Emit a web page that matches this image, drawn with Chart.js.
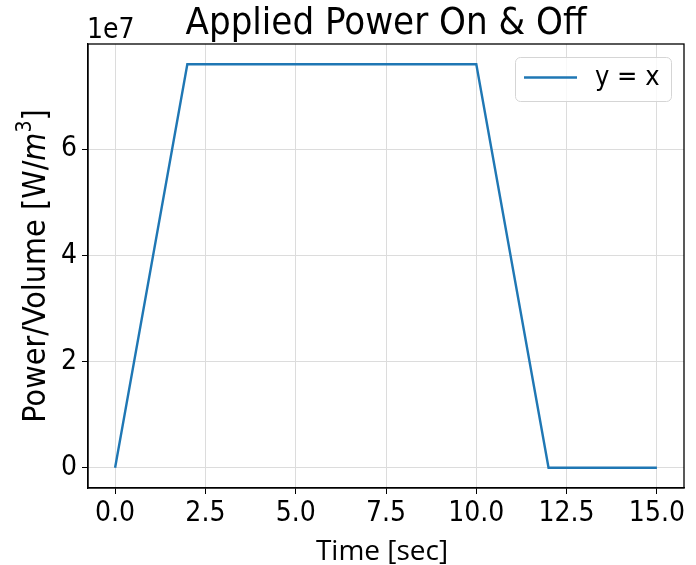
<!DOCTYPE html>
<html>
<head>
<meta charset="utf-8">
<script src="https://cdn.jsdelivr.net/npm/chart.js@4.4.1/dist/chart.umd.min.js"></script>
<style>
  html, body { margin: 0; padding: 0; background: #fff; }
  #wrap { width: 696px; height: 565px; }
</style>
</head>
<body>
<div id="wrap"><canvas id="myChart" width="696" height="565"></canvas></div>
<script>
// data
const timeSec = [0, 2, 10, 12, 15];
const powerPerVolume = [0, 7.6e7, 7.6e7, 0, 0];
const seriesLabel = 'y = x';
const xTicks = [0, 2.5, 5, 7.5, 10, 12.5, 15];
const yTicks = [0, 2e7, 4e7, 6e7];

const fam = '"DejaVu Sans Condensed", "DejaVu Sans", sans-serif';
const tickFont = '28px ' + fam;
const blue = '#1f77b4';

// draws frame, title, axis labels, offset text and legend like matplotlib
const decorations = {
    id: 'decorations',
    afterDraw(chart) {
        const ctx = chart.ctx;
        const a = chart.chartArea;
        ctx.save();

        // full box around the axes
        ctx.strokeStyle = '#000';
        ctx.lineWidth = 1.3;
        ctx.strokeRect(a.left, a.top, a.right - a.left, a.bottom - a.top);

        ctx.fillStyle = '#000';
        // title
        ctx.font = '38px ' + fam;
        ctx.textAlign = 'center';
        ctx.textBaseline = 'alphabetic';
        ctx.fillText('Applied Power On & Off', (a.left + a.right) / 2, 34);

        // 1e7 offset
        ctx.font = tickFont;
        ctx.textAlign = 'left';
        ctx.fillText('1e7', 87, 38);

        // x label
        ctx.font = '28px "Open Sans", sans-serif';
        ctx.textAlign = 'center';
        ctx.fillText('Time [sec]', (a.left + a.right) / 2 - 4, 560);

        // y label with italic m and superscript 3
        ctx.translate(45, (a.top + a.bottom) / 2);
        ctx.rotate(-Math.PI / 2);
        const base = '32px ' + fam;
        const ital = 'italic 32px ' + fam;
        const sup = '21px ' + fam;
        const parts = [
            [base, 'Power/Volume [W/', 0],
            [ital, 'm', 0],
            [sup, '3', -14],
            [base, ']', 0]
        ];
        let total = 0;
        parts.forEach(p => { ctx.font = p[0]; total += ctx.measureText(p[1]).width; });
        let x = -total / 2;
        ctx.textAlign = 'left';
        parts.forEach(p => {
            ctx.font = p[0];
            ctx.fillText(p[1], x, p[2]);
            x += ctx.measureText(p[1]).width;
        });
        ctx.restore();

        // legend box
        ctx.save();
        const lx = 515, ly = 57, lw = 156, lh = 44;
        ctx.fillStyle = 'rgba(255,255,255,0.8)';
        ctx.strokeStyle = '#d5d5d5';
        ctx.lineWidth = 1;
        ctx.beginPath();
        ctx.roundRect(lx + 0.5, ly + 0.5, lw, lh, 5);
        ctx.fill();
        ctx.stroke();
        ctx.strokeStyle = blue;
        ctx.lineWidth = 2.4;
        ctx.beginPath();
        ctx.moveTo(lx + 9, ly + 20.5);
        ctx.lineTo(lx + 62, ly + 20.5);
        ctx.stroke();
        ctx.fillStyle = '#000';
        ctx.font = '27px ' + fam;
        ctx.textBaseline = 'middle';
        ctx.fillText(seriesLabel, lx + 80, ly + 21);
        ctx.restore();
    }
};

const canvas = document.getElementById('myChart');
new Chart(canvas, {
    type: 'line',
    data: {
        datasets: [{
            label: seriesLabel,
            data: timeSec.map((t, i) => ({ x: t, y: powerPerVolume[i] })),
            borderColor: blue,
            borderWidth: 2.4,
            pointRadius: 0,
            tension: 0,
            fill: false
        }]
    },
    options: {
        responsive: false,
        animation: false,
        layout: { padding: { top: 44, right: 12, left: 0, bottom: 0 } },
        plugins: {
            legend: { display: false },
            tooltip: { enabled: false }
        },
        scales: {
            x: {
                type: 'linear',
                min: -0.75,
                max: 15.75,
                afterFit: s => { s.height = 77; },
                afterBuildTicks: s => { s.ticks = xTicks.map(v => ({ value: v })); },
                ticks: {
                    font: { family: fam, size: 28 },
                    color: '#000',
                    padding: 3,
                    maxRotation: 0,
                    callback: v => v.toFixed(1)
                },
                grid: { color: '#dcdcdc', lineWidth: 1, tickColor: '#000', tickLength: 6 },
                border: { color: '#000', width: 1.3 }
            },
            y: {
                type: 'linear',
                min: -0.38e7,
                max: 7.98e7,
                afterFit: s => { s.width = 88; },
                afterBuildTicks: s => { s.ticks = yTicks.map(v => ({ value: v })); },
                ticks: {
                    font: { family: fam, size: 28 },
                    color: '#000',
                    padding: 5,
                    callback: v => String(v / 1e7)
                },
                grid: { color: '#dcdcdc', lineWidth: 1, tickColor: '#000', tickLength: 6 },
                border: { color: '#000', width: 1.3 }
            }
        }
    },
    plugins: [decorations]
});
</script>
</body>
</html>
